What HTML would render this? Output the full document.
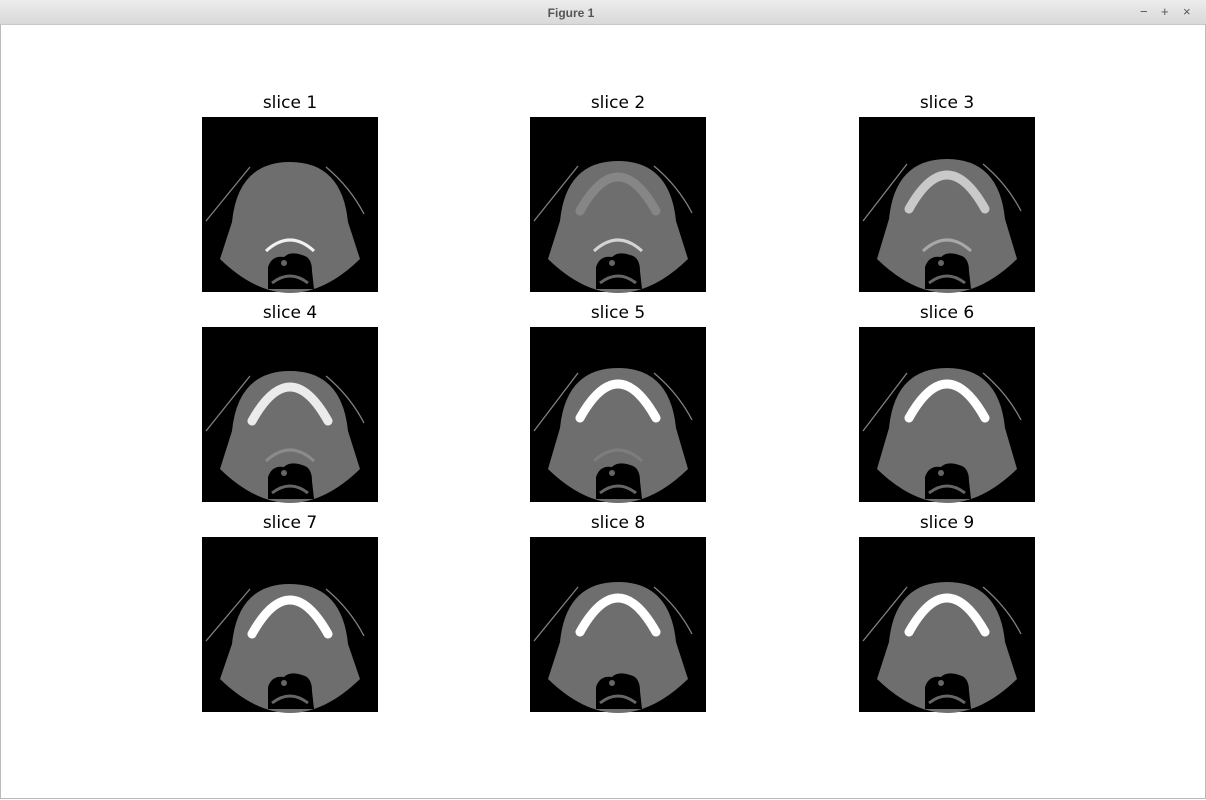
<!DOCTYPE html>
<html><head><meta charset="utf-8"><style>
body{margin:0;width:1206px;height:800px;overflow:hidden;background:#fff;font-family:"Liberation Sans",sans-serif}
#titlebar{position:absolute;left:0;top:0;width:1206px;height:24px;background:linear-gradient(#ececec,#d9d9d9);border-bottom:1px solid #c8c8c8}
#titlebar .t{position:absolute;left:0;width:1142px;top:6px;text-align:center;font-size:12px;font-weight:bold;color:#555}
#titlebar .b{position:absolute;top:4px;font-size:13px;color:#555}
#frame{position:absolute;left:0;top:24px;width:1204px;height:774px;border:1px solid #bbb;border-top:none}
</style></head><body>
<div id="titlebar"><div class="t">Figure 1</div>
<span class="b" style="left:1140px">−</span>
<span class="b" style="left:1161px">+</span>
<span class="b" style="left:1183px">×</span></div>
<div id="frame"></div>
<svg id="fig" width="1206" height="800" style="position:absolute;left:0;top:0"></svg>
<script>
const titles=["slice 1","slice 2","slice 3","slice 4","slice 5","slice 6","slice 7","slice 8","slice 9"];
const boneLevel=[0,0.1,0.6,0.85,1,1,1,1,1];
const headTop=[45,44,42,44,41,41,47,45,45];
const spineBright=[0.9,0.7,0.4,0.2,0.1,0,0,0,0];
const colX=[202,530,859], rowY=[117,327,537], W=176,H=175;
const svg=document.getElementById('fig');
const NS='http://www.w3.org/2000/svg';
function mk(t,a,p){const e=document.createElementNS(NS,t);for(const k in a)e.setAttribute(k,a[k]);p.appendChild(e);return e;}
titles.forEach((t,i)=>{
 const x=colX[i%3],y=rowY[Math.floor(i/3)];
 const g=mk('g',{transform:`translate(${x},${y})`},svg);
 
 
 mk('rect',{x:0,y:0,width:W,height:H,fill:'#000'},g);
 const top=headTop[i];
 mk('path',{d:`M18 142 L30 ${top+60} Q36 ${top} 88 ${top} Q140 ${top} 146 ${top+60} L158 142 Q88 210 18 142 Z`,fill:'#6e6e6e'},g);
 mk('path',{d:`M4 104 L48 ${top+5}`,stroke:'#808080',"stroke-width":1.3,fill:'none'},g);
 mk('path',{d:`M124 ${top+5} Q148 ${top+25} 162 ${top+52}`,stroke:'#808080',"stroke-width":1.3,fill:'none'},g);
 const b=boneLevel[i];
 if(b>0){const c=Math.round(120+135*b);
  mk('path',{d:`M50 ${top+50} Q88 ${top-18} 126 ${top+50}`,stroke:`rgb(${c},${c},${c})`,"stroke-width":9,fill:'none',"stroke-linecap":"round"},g);}
 const s=spineBright[i];
 if(s>0){const c=Math.round(110+145*s);mk('path',{d:'M64 134 Q88 112 112 134',stroke:`rgb(${c},${c},${c})`,"stroke-width":3,fill:'none'},g);}
 mk('path',{d:'M66 150 Q70 138 82 140 Q88 134 100 138 Q110 140 110 154 L112 172 L66 172 Z',fill:'#000'},g);
 mk('path',{d:'M70 166 Q88 152 106 166',stroke:'#666',"stroke-width":3,fill:'none'},g);
 mk('circle',{cx:82,cy:146,r:3,fill:'#666'},g);
 const tx=mk('text',{x:x+W/2,y:y-9,"text-anchor":"middle","font-size":17,"font-family":"DejaVu Sans, Liberation Sans, sans-serif",fill:'#000'},svg);
 tx.textContent=t;
 
 
});
</script>
</body></html>
